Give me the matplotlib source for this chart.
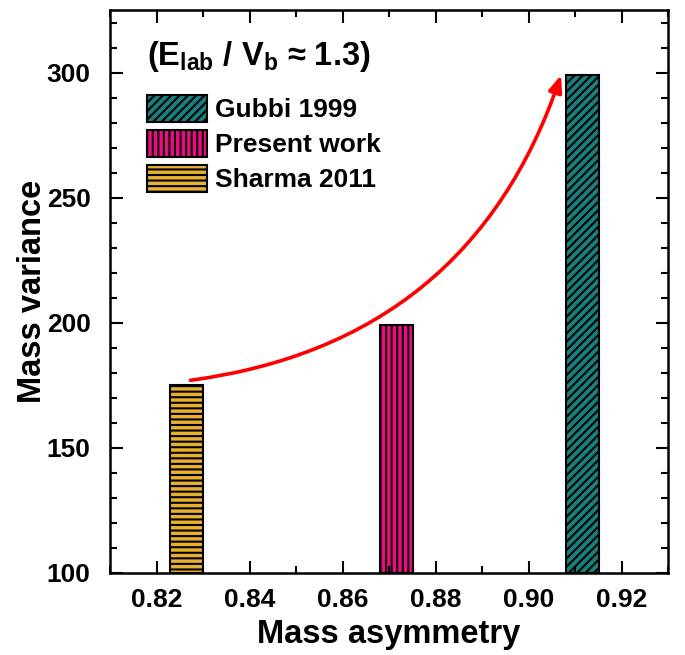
import matplotlib
matplotlib.use("Agg")
import matplotlib.pyplot as plt
from matplotlib.ticker import MultipleLocator

plt.rcParams['font.family'] = ['Liberation Sans', 'DejaVu Sans']
plt.rcParams['font.weight'] = 'bold'
plt.rcParams['mathtext.fontset'] = 'custom'
plt.rcParams['mathtext.bf'] = 'Liberation Sans:bold'
plt.rcParams['mathtext.rm'] = 'Liberation Sans:bold'
plt.rcParams['mathtext.it'] = 'Liberation Sans:bold'
plt.rcParams['mathtext.default'] = 'bf'
plt.rcParams['hatch.linewidth'] = 1.5

labels = ["Gubbi 1999", "Present work", "Sharma 2011"]
mass_asym = [0.9117, 0.8717, 0.8265]
mass_var = [299, 199, 175]
colors = ["#17807E", "#EE0A82", "#E8B030"]
hatches = ["////", "|||", "---"]
arrow_start = (0.8273, 177)
arrow_end = (0.9070, 299)

fig = plt.figure(figsize=(6.85, 6.55), dpi=100)
ax = fig.add_axes([0.1606, 0.1252, 0.8146, 0.8595])

for x, y, c, h, lab in zip(mass_asym, mass_var, colors, hatches, labels):
    ax.bar(x, y - 100, bottom=100, width=0.0071, color=c, edgecolor='black',
           hatch=h, linewidth=1.5, label=lab)

ax.annotate("", xy=arrow_end, xytext=arrow_start,
            arrowprops=dict(arrowstyle="-|>,head_length=1.0,head_width=0.4",
                            color='#FF0000', lw=2.6,
                            connectionstyle="arc3,rad=0.31",
                            shrinkA=0, shrinkB=0))

ax.set_xlim(0.81, 0.93)
ax.set_ylim(100, 325)
ax.xaxis.set_minor_locator(MultipleLocator(0.01))
ax.yaxis.set_major_locator(MultipleLocator(50))
ax.yaxis.set_minor_locator(MultipleLocator(10))
ax.set_xticks([0.82, 0.84, 0.86, 0.88, 0.90, 0.92])
ax.set_xticklabels(["0.82", "0.84", "0.86", "0.88", "0.90", "0.92"])
ax.set_yticks([100, 150, 200, 250, 300])
ax.tick_params(which='both', direction='in', top=True, right=True, width=1.5,
               labelsize=19)
ax.tick_params(which='major', length=9)
ax.tick_params(which='minor', length=5)
ax.tick_params(axis='x', which='major', pad=11)
ax.tick_params(axis='y', which='major', pad=14)
for s in ax.spines.values():
    s.set_linewidth(1.8)

ax.set_xlabel("Mass asymmetry", fontsize=23.5, fontweight='bold', labelpad=5)
ax.set_ylabel("Mass variance", fontsize=23.5, fontweight='bold', labelpad=-1)

ax.text(0.066, 0.917, r"(E$_{lab}$ / V$_{b}$ ≈ 1.3)", transform=ax.transAxes,
        fontsize=23.5, fontweight='bold', va='center', ha='left')

leg = ax.legend(loc='upper left', bbox_to_anchor=(0.066, 0.849), frameon=False,
                fontsize=19, handlelength=2.27, handleheight=1.2,
                labelspacing=0.28, handletextpad=0.3, borderpad=0,
                borderaxespad=0)

fig.savefig("out.png", dpi=100)
